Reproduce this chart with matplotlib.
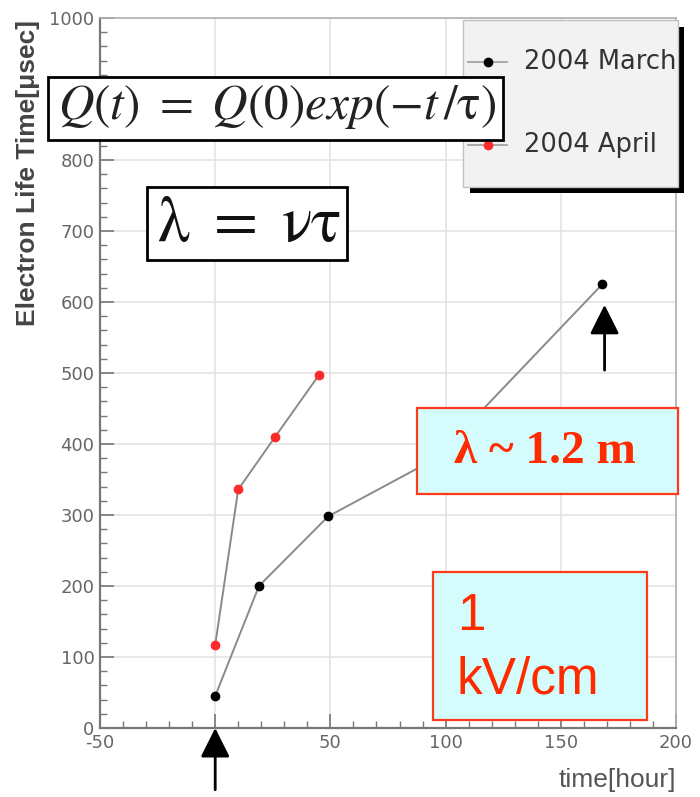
import matplotlib
matplotlib.use('Agg')
import matplotlib.pyplot as plt
from matplotlib.patches import Rectangle
from matplotlib.lines import Line2D

# ---- data ----
march_t = [0, 19, 49, 96, 168]
march_v = [45, 200, 298, 380, 625]
april_t = [0, 10, 26, 45]
april_v = [117, 336, 410, 497]
series_labels = ['2004 March', '2004 April']
xticks = [-50, 0, 50, 100, 150, 200]
yticks = list(range(0, 1001, 100))

plt.rcParams['mathtext.fontset'] = 'stix'
plt.rcParams['axes.unicode_minus'] = False

W, H = 700, 797
fig = plt.figure(figsize=(7, 7.97), dpi=100)


def fx(x):
    return x / W


def fy(y):
    return 1 - y / H


L, R, T, B = 100, 676, 18, 728
ax = fig.add_axes([fx(L), fy(B), fx(R) - fx(L), fy(T) - fy(B)])
ax.set_xlim(-50, 200)
ax.set_ylim(0, 1000)
ax.set_xticks(xticks)
ax.set_yticks(yticks)
ax.set_xticks(range(-50, 201, 10), minor=True)
ax.set_yticks(range(0, 1001, 20), minor=True)
ax.grid(True, which='major', color='#e4e4e4', lw=1.2)
ax.set_axisbelow(True)
ax.tick_params(direction='in', which='both', colors='#777777',
               labelcolor='#666666', labelsize=13)
ax.tick_params(which='major', length=10, width=1.2, pad=4)
ax.tick_params(which='minor', length=5, width=1.0)
for lbl in ax.get_xticklabels() + ax.get_yticklabels():
    lbl.set_family('DejaVu Sans')
for s in ['left', 'bottom']:
    ax.spines[s].set_color('#777777')
    ax.spines[s].set_linewidth(1.6)
for s in ['top', 'right']:
    ax.spines[s].set_color('#b0b0b0')
    ax.spines[s].set_linewidth(1.2)

ax.plot(march_t, march_v, color='#8a8a8a', lw=1.4, marker='o', ms=6,
        mfc='black', mec='black', zorder=3)
ax.plot(april_t, april_v, color='#8a8a8a', lw=1.4, marker='o', ms=6,
        mfc='#ff2a2a', mec='#ff2a2a', zorder=3)

# axis titles
fig.text(fx(28), fy(20), 'Electron Life Time[\u03bcsec]', rotation=90,
         ha='center', va='top', fontsize=19, fontweight='bold',
         color='#444444', family='Liberation Sans')
fig.text(fx(676), fy(780), 'time[hour]', ha='right', va='center',
         fontsize=19, color='#555555', family='Liberation Sans')

# legend (manual, ROOT-style with shadow)
fig.patches.append(Rectangle((fx(470), fy(193)), fx(684) - fx(470), fy(27) - fy(193),
                             transform=fig.transFigure, facecolor='black',
                             edgecolor='none', zorder=5))
leg_box = Rectangle((fx(463), fy(187)), fx(678) - fx(463), fy(20) - fy(187),
                    transform=fig.transFigure, facecolor='#f2f2f2',
                    edgecolor='#c0c0c0', lw=1, zorder=6)
fig.patches.append(leg_box)
leg_rows = [(62, 'black'), (145, '#ff2a2a')]
for (yy, col), lab in zip(leg_rows, series_labels):
    fig.lines.append(Line2D([fx(468), fx(507)], [fy(yy), fy(yy)],
                            transform=fig.transFigure, color='#aaaaaa', lw=1.4,
                            zorder=7))
    fig.lines.append(Line2D([fx(488)], [fy(yy)], transform=fig.transFigure,
                            marker='o', ms=6, mfc=col, mec=col, ls='none',
                            zorder=8))
    t = fig.text(fx(524), fy(yy), lab, ha='left', va='center', fontsize=18.5,
                 color='#333333', family='DejaVu Sans', zorder=8)
    t.set_clip_path(leg_box)

# formula boxes
fig.patches.append(Rectangle((fx(48), fy(140)), fx(503) - fx(48), fy(77) - fy(140),
                             transform=fig.transFigure, facecolor='white',
                             edgecolor='black', lw=2, zorder=9))
fig.text(fx(277), fy(107), r'$Q(t)\ =\ Q(0)exp(-t\,/\mathrm{\tau})$', ha='center',
         va='center', fontsize=35.5, color='#222222', zorder=10)

fig.patches.append(Rectangle((fx(147), fy(260)), fx(347) - fx(147), fy(187) - fy(260),
                             transform=fig.transFigure, facecolor='white',
                             edgecolor='black', lw=2, zorder=9))
fig.text(fx(249), fy(223), r'$\mathrm{\lambda}\ =\ \mathrm{\nu\tau}$', ha='center',
         va='center', fontsize=46, color='#111111', zorder=10)

# cyan boxes
fig.patches.append(Rectangle((fx(417), fy(494)), fx(678) - fx(417), fy(408) - fy(494),
                             transform=fig.transFigure, facecolor='#d4fcfd',
                             edgecolor='#ff3a1a', lw=1.6, zorder=9))
fig.text(fx(545), fy(452), '\u03bb ~ 1.2 m', ha='center', va='center',
         fontsize=34, fontweight='bold', color='#ff2a00',
         family='Liberation Serif', zorder=10)

fig.patches.append(Rectangle((fx(433), fy(720)), fx(647) - fx(433), fy(572) - fy(720),
                             transform=fig.transFigure, facecolor='#d4fcfd',
                             edgecolor='#ff3a1a', lw=1.6, zorder=9))
fig.text(fx(457), fy(592), '1\nkV/cm', ha='left', va='top', fontsize=37,
         color='#ff2a00', family='Liberation Sans', linespacing=1.37, zorder=10)

# arrows
arrow_kw = dict(arrowstyle='-|>,head_length=0.9,head_width=0.45', color='black',
                lw=2, shrinkA=0, shrinkB=0, mutation_scale=20)
ax.annotate('', xy=(0, 0), xytext=(0, -87), arrowprops=arrow_kw,
            annotation_clip=False)
ax.annotate('', xy=(169, 596), xytext=(169, 504), arrowprops=arrow_kw,
            annotation_clip=False)

fig.savefig('out.png', dpi=100)
